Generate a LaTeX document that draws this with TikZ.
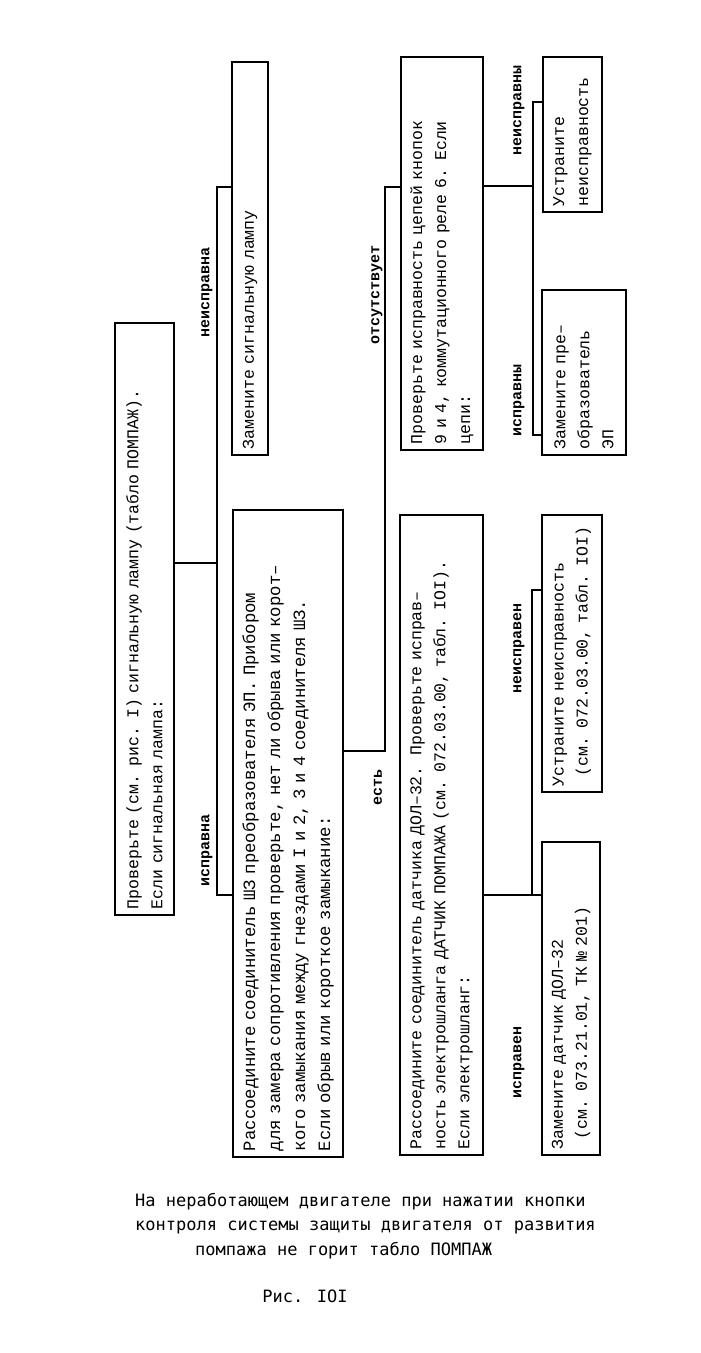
\documentclass[tikz,border=0pt]{standalone}
\usepackage{fontspec}
\setmainfont{Liberation Mono}
\newfontfamily\capfont{DejaVu Sans Mono}
\usetikzlibrary{arrows}

\begin{document}
\begin{tikzpicture}[x=1pt, y=-1pt, font=\fontsize{16.5}{24}\selectfont]
	\tikzstyle{box} = [draw, line width=1.9pt, rotate=90, inner xsep=6pt, inner ysep=2pt, align=left]
	\tikzstyle{lbl} = [rotate=90, inner sep=0pt, font=\fontsize{15}{18}\selectfont\bfseries]
	\tikzstyle{link} = [line width=1.2pt]

	\useasboundingbox (0,0) rectangle (701,1353);

	\path
	node[box, text width=580pt, minimum height=59pt] (lamp) at (144.5,619)
		{Проверьте (см. рис. I) сигнальную лампу (табло ПОМПАЖ).\\Если сигнальная лампа:}
	node[box, text width=381pt, minimum height=36pt] (newlamp) at (250,258.5)
		{Замените сигнальную лампу}
	node[box, text width=635pt, minimum height=110pt, font=\fontsize{17.3}{25}\selectfont] (plug) at (288,833.5)
		{Рассоедините соединитель ШЗ преобразователя ЭП. Прибором\\
		 для замера сопротивления проверьте, нет ли обрыва или корот–\\
		 кого замыкания между гнездами I и 2, 3 и 4 соединителя ШЗ.\\
		 Если обрыв или короткое замыкание:}
	node[box, text width=381pt, minimum height=82pt] (circuit) at (442,253.5)
		{Проверьте исправность цепей кнопок\\9 и 4, коммутационного реле 6. Если\\цепи:}
	node[box, text width=628pt, minimum height=83pt] (hose) at (441.5,835)
		{Рассоедините соединитель датчика ДОЛ–32.\ \ Проверьте исправ–\\
		 ность электрошланга ДАТЧИК ПОМПАЖА (см. 072.03.00, табл. IOI).\\
		 Если электрошланг:}
	node[box, text width=143pt, minimum height=59pt] (fixrelay) at (572.5,134.5)
		{Устраните\\неисправность}
	node[box, text width=153pt, minimum height=84pt] (converter) at (584,372.5)
		{Замените пре–\\образователь\\ЭП}
	node[box, text width=265pt, minimum height=60pt] (fixhose) at (572,653.5)
		{Устраните неисправность\\\hspace*{0.6em}(см. 072.03.00, табл. IOI)}
	node[box, text width=301pt, minimum height=58pt] (sensor) at (571,998.5)
		{Замените датчик ДОЛ–32\\\hspace*{0.6em}(см. 073.21.01, ТК № 201)}
	;

	% branch labels
	\node[lbl] (l1) at (207,292) {неисправна};
	\node[lbl] (l2) at (207,850) {исправна};
	\node[lbl] (l3) at (377,295) {отсутствует};
	\node[lbl] (l4) at (378,787) {есть};
	\node[lbl] (l5) at (519,110) {неисправны};
	\node[lbl] (l6) at (519,400) {исправны};
	\node[lbl] (l7) at (519,648) {неисправен};
	\node[lbl] (l8) at (519,1062) {исправен};

	% connectors
	\coordinate (j1) at (217,563);
	\coordinate (t1) at (217,187);
	\coordinate (t2) at (217,895);
	\draw[link] (lamp.south |- j1) -- (j1);
	\draw[link] (newlamp.north |- t1) -- (t1) -- (t2) -- (plug.north |- t2);

	\coordinate (j2) at (385,751);
	\coordinate (t3) at (385,187);
	\draw[link] (plug.south |- j2) -- (j2) -- (t3) -- (circuit.north |- t3);

	\coordinate (j3) at (533,186);
	\coordinate (t4) at (533,102);
	\coordinate (t5) at (533,435);
	\draw[link] (circuit.south |- j3) -- (j3);
	\draw[link] (fixrelay.north |- t4) -- (t4) -- (t5) -- (converter.north |- t5);

	\coordinate (j4) at (532,895);
	\coordinate (t6) at (532,590);
	\draw[link] (hose.south |- j4) -- (sensor.north |- j4);
	\draw[link] (j4) -- (t6) -- (fixhose.north |- t6);

	% caption
	\node[anchor=north west, inner sep=0pt, align=left, font=\capfont\fontsize{17}{24.5}\selectfont] (cap) at (135,1193)
		{На неработающем двигателе при нажатии кнопки\\
		 контроля системы защиты двигателя от развития\\
		 \hspace*{60pt}помпажа не горит табло ПОМПАЖ};
	\node[font=\capfont\fontsize{17}{20}\selectfont] (fig) at (305,1296) {Рис. IOI};
\end{tikzpicture}
\end{document}
